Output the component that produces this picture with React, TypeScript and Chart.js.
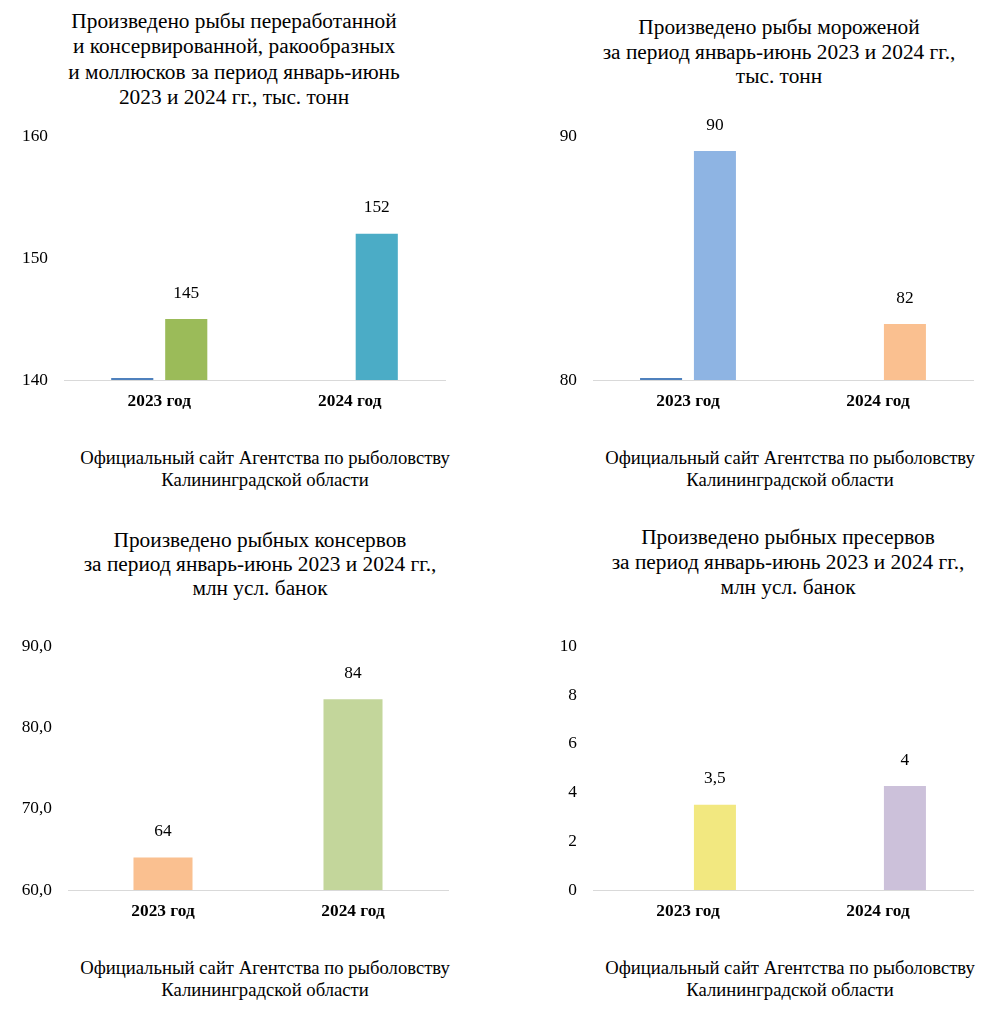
import React, { useEffect, useRef } from "react";
import { Chart, registerables } from "chart.js";

Chart.register(...registerables);

const FONT = "'Liberation Serif', serif";

const categories = ["2023 год", "2024 год"];
const sourceLines = ["Официальный сайт Агентства по рыболовству", "Калининградской области"];

// Chart 1 — processed fish
const title1 = [
  "Произведено рыбы переработанной",
  "и консервированной, ракообразных",
  "и моллюсков за период январь-июнь",
  "2023 и 2024 гг., тыс. тонн",
];
const processedMarker = [140, null];
const processedValues = [145, 152];
const processedLabels = ["145", "152"];
const processedColors = ["#9bbb59", "#4bacc6"];

// Chart 2 — frozen fish
const title2 = ["Произведено рыбы мороженой", "за период январь-июнь 2023 и 2024 гг.,", "тыс. тонн"];
const frozenMarker = [80, null];
const frozenValues = [89.4, 82.3];
const frozenLabels = ["90", "82"];
const frozenColors = ["#8eb4e3", "#fac090"];

// Chart 3 — canned fish
const title3 = ["Произведено рыбных консервов", "за период январь-июнь 2023 и 2024 гг.,", "млн усл. банок"];
const cannedValues = [64, 83.5];
const cannedLabels = ["64", "84"];
const cannedColors = ["#fac090", "#c3d69b"];

// Chart 4 — preserves
const title4 = ["Произведено рыбных пресервов", "за период январь-июнь 2023 и 2024 гг.,", "млн усл. банок"];
const presMarker = [null, null];
const presValues = [3.5, 4.27];
const presLabels = ["3,5", "4"];
const presColors = ["#f2e880", "#ccc1da"];

const valueLabelPlugin = {
  id: "valueLabels",
  afterDatasetsDraw(chart: any) {
    const ctx = chart.ctx;
    ctx.save();
    ctx.font = `17.33px ${FONT}`;
    ctx.fillStyle = "#000";
    ctx.textAlign = "center";
    ctx.textBaseline = "middle";
    chart.data.datasets.forEach((ds: any, i: number) => {
      if (!ds.valueLabels) return;
      const meta = chart.getDatasetMeta(i);
      meta.data.forEach((el: any, j: number) => {
        const t = ds.valueLabels[j];
        if (t == null) return;
        ctx.fillText(t, el.x, el.y - 26);
      });
    });
    ctx.restore();
  },
};

type PanelProps = {
  left: number;
  top: number;
  width: number;
  height: number;
  axisWidth: number;
  padRight: number;
  min: number;
  max: number;
  step: number;
  decimals: number;
  datasets: any[];
  barPercentage: number;
  categoryPercentage: number;
};

function BarPanel(p: PanelProps) {
  const ref = useRef<HTMLCanvasElement | null>(null);
  useEffect(() => {
    if (!ref.current) return;
    const chart = new Chart(ref.current, {
      type: "bar",
      data: { labels: categories, datasets: p.datasets },
      options: {
        animation: false,
        responsive: false,
        devicePixelRatio: 1,
        layout: { padding: { top: 24, right: p.padRight, bottom: 0, left: 0 } },
        plugins: { legend: { display: false }, tooltip: { enabled: false }, title: { display: false } },
        datasets: { bar: { barPercentage: p.barPercentage, categoryPercentage: p.categoryPercentage } },
        scales: {
          x: {
            grid: { display: false, drawTicks: false },
            border: { display: true, color: "#d9d9d9", width: 1 },
            ticks: { color: "#000", padding: 11, font: { family: FONT, size: 17.33, weight: "bold" } },
            afterFit: (s: any) => {
              s.height = 40;
            },
          },
          y: {
            min: p.min,
            max: p.max,
            grid: { display: false, drawTicks: false },
            border: { display: false },
            ticks: {
              stepSize: p.step,
              color: "#000",
              padding: 16,
              font: { family: FONT, size: 17.33 },
              callback: (v: any) => Number(v).toFixed(p.decimals).replace(".", ","),
            },
            afterFit: (s: any) => {
              s.width = p.axisWidth;
            },
          },
        },
      } as any,
      plugins: [valueLabelPlugin],
    });
    return () => chart.destroy();
  }, []);
  return (
    <canvas
      ref={ref}
      width={p.width}
      height={p.height}
      style={{ position: "absolute", left: p.left, top: p.top, width: p.width, height: p.height }}
    />
  );
}

function TextBlock(props: { lines: string[]; cx: number; top: number; size: number; lh: number }) {
  return (
    <div
      style={{
        position: "absolute",
        left: props.cx - 250,
        top: props.top,
        width: 500,
        textAlign: "center",
        fontFamily: FONT,
        fontSize: props.size,
        lineHeight: `${props.lh}px`,
        color: "#000",
        whiteSpace: "nowrap",
      }}
    >
      {props.lines.map((l, i) => (
        <div key={i}>{l}</div>
      ))}
    </div>
  );
}

const markerStyle = { backgroundColor: "#4f81bd", minBarLength: 2, clip: false };

export default function App() {
  return (
    <div style={{ position: "absolute", left: 0, top: 0, width: 1002, height: 1019, background: "#fff" }}>
      <TextBlock lines={title1} cx={234} top={9} size={21.33} lh={25.3} />
      <TextBlock lines={title2} cx={779} top={15} size={21.33} lh={24.7} />
      <TextBlock lines={title3} cx={260} top={528} size={21.33} lh={24.2} />
      <TextBlock lines={title4} cx={788} top={525} size={21.33} lh={24.8} />
      <TextBlock lines={sourceLines} cx={265} top={447} size={18.67} lh={21.5} />
      <TextBlock lines={sourceLines} cx={790} top={447} size={18.67} lh={21.5} />
      <TextBlock lines={sourceLines} cx={265} top={957} size={18.67} lh={22} />
      <TextBlock lines={sourceLines} cx={790} top={957} size={18.67} lh={22} />

      <BarPanel
        left={0}
        top={110}
        width={460}
        height={310}
        axisWidth={64}
        padRight={15}
        min={140}
        max={160}
        step={10}
        decimals={0}
        barPercentage={0.78}
        categoryPercentage={0.567}
        datasets={[
          { data: processedMarker, base: 140, ...markerStyle },
          { data: processedValues, backgroundColor: processedColors, valueLabels: processedLabels },
        ]}
      />
      <BarPanel
        left={520}
        top={110}
        width={470}
        height={310}
        axisWidth={73}
        padRight={17}
        min={80}
        max={90}
        step={10}
        decimals={0}
        barPercentage={0.78}
        categoryPercentage={0.567}
        datasets={[
          { data: frozenMarker, base: 80, ...markerStyle },
          { data: frozenValues, backgroundColor: frozenColors, valueLabels: frozenLabels },
        ]}
      />
      <BarPanel
        left={0}
        top={620}
        width={465}
        height={310}
        axisWidth={68}
        padRight={17}
        min={60}
        max={90}
        step={10}
        decimals={1}
        barPercentage={0.548}
        categoryPercentage={0.567}
        datasets={[{ data: cannedValues, backgroundColor: cannedColors, valueLabels: cannedLabels }]}
      />
      <BarPanel
        left={520}
        top={620}
        width={470}
        height={310}
        axisWidth={73}
        padRight={17}
        min={0}
        max={10}
        step={2}
        decimals={0}
        barPercentage={0.78}
        categoryPercentage={0.567}
        datasets={[
          { data: presMarker, ...markerStyle },
          { data: presValues, backgroundColor: presColors, valueLabels: presLabels },
        ]}
      />
    </div>
  );
}
